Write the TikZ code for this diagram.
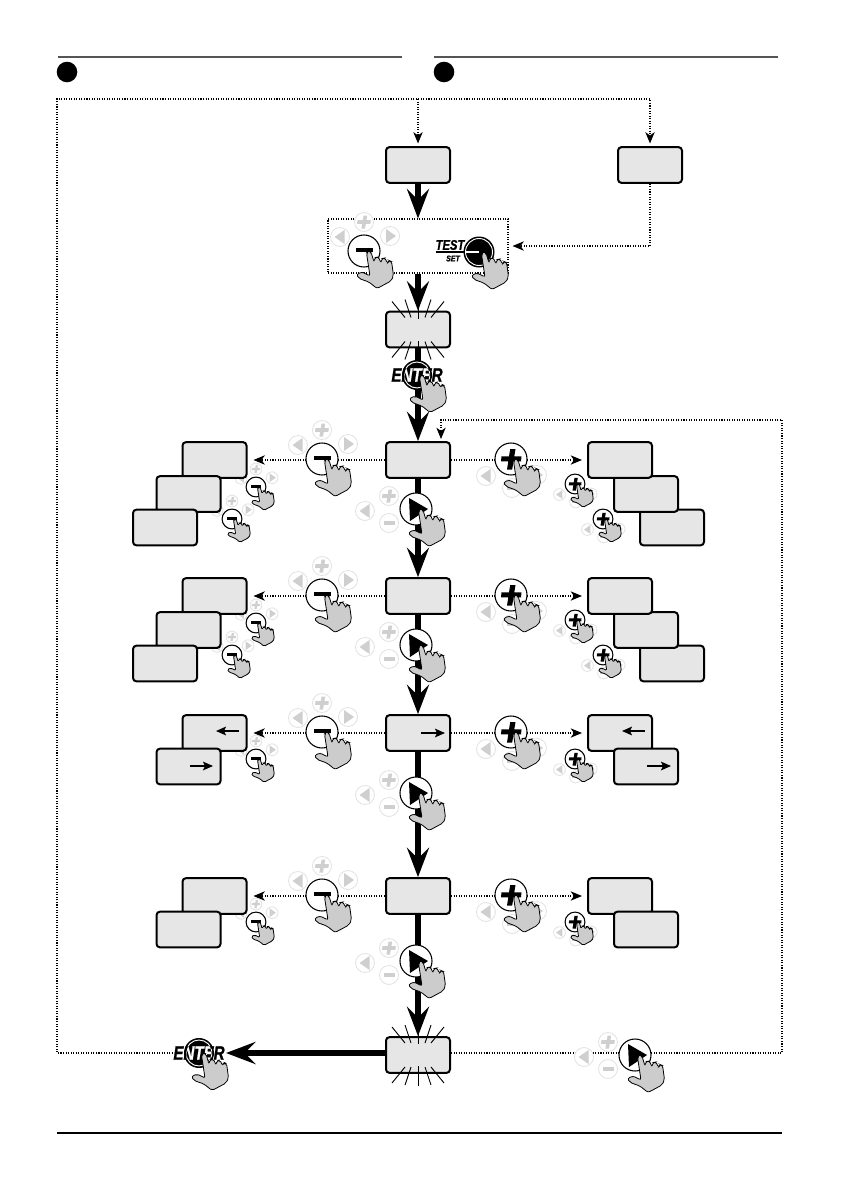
\documentclass[tikz,border=0pt]{standalone}
\usepackage{fontspec}
\setmainfont{Liberation Sans}
\newfontface\heavyital[FakeBold=1.2]{Liberation Sans Bold Italic}
\usetikzlibrary{arrows.meta}
\definecolor{boxgray}{HTML}{E6E6E6}
\definecolor{handgray}{HTML}{CCCCCC}
\definecolor{ghostline}{HTML}{E2E2E2}
\definecolor{ghosticon}{HTML}{CFCFCF}
\definecolor{rulegray}{HTML}{555555}
\tikzset{
  bx/.style={draw=black,fill=boxgray,rectangle,rounded corners=2.6pt,line width=1.5pt,inner sep=0pt,minimum width=48pt,minimum height=26.8pt},
  dotline/.style={line width=.8pt,dash pattern=on .8pt off 1.1pt},
  dotarrow/.style={dotline,-{Stealth[length=8.5pt,width=7pt,inset=2.5pt]}},
  bigarrow/.style={line width=4.6pt,-{Stealth[length=22pt,width=16.5pt,inset=8pt]}},
  boxarrow/.style={line width=1.1pt,-{Stealth[length=7.5pt,width=6.5pt,inset=1.5pt]}},
  ghostc/.style={draw=ghostline,fill=white,line width=.6pt},
  btn/.style={draw=black,fill=white,line width=.8pt},
  hand/.style={draw=black,fill=handgray,line width=.6pt},
  frameb/.style={draw=black,dotline,rectangle,inner sep=0pt,minimum width=135pt,minimum height=40.5pt},
  rayline/.style={line width=.7pt,black},
  label/.style={inner sep=0pt}
}
% hand, local origin = centre of its button
\newcommand\handat[4]{\begin{scope}[shift={(#1,#2)},scale=#3]
  \draw[hand,rounded corners=#4]
   (2.5,2) -- (4.5,-.5) -- (7,1) -- (10,11) -- (11,6.5) -- (14.5,6) -- (17,12) -- (18,7.5) -- (21,7) -- (23.5,12.5)
   -- (25,9.5) -- (27.5,10.5) -- (28.5,17) -- (29.5,25) -- (27,30) -- (13,37.5) -- (5,31) -- (-5,27.5) -- (-7.5,23.5) -- (-2,21) -- (6,25) -- cycle;
\end{scope}}
% ghost buttons
\newcommand\ghostleft[3]{\begin{scope}[shift={(#1,#2)},scale=#3]
  \draw[ghostc] (0,0) circle[radius=9.5]; \fill[ghosticon] (-5.5,0) -- (4.5,-7) -- (4.5,7) -- cycle;\end{scope}}
\newcommand\ghostright[3]{\begin{scope}[shift={(#1,#2)},scale=#3]
  \draw[ghostc] (0,0) circle[radius=9.5]; \fill[ghosticon] (6,0) -- (-4,-7) -- (-4,7) -- cycle;\end{scope}}
\newcommand\ghostplus[3]{\begin{scope}[shift={(#1,#2)},scale=#3]
  \draw[ghostc] (0,0) circle[radius=9.5];
  \fill[ghosticon] (-6.5,-1.8) -- (-1.2,-1.8) -- (-.4,-6.5) -- (3.2,-6.5) -- (2.4,-1.8) -- (6.8,-1.8) -- (6.4,1.8) -- (1.8,1.8) -- (1,6.5) -- (-2.6,6.5) -- (-1.8,1.8) -- (-7,1.8) -- cycle;\end{scope}}
\newcommand\ghostminus[3]{\begin{scope}[shift={(#1,#2)},scale=#3]
  \draw[ghostc] (0,0) circle[radius=9.5]; \fill[ghosticon] (-5.5,-1.7) rectangle (5.5,1.7);\end{scope}}
% big / small buttons: x y scale rounding
\newcommand\minusbtn[4]{\begin{scope}[shift={(#1,#2)},scale=#3]
  \ghostplus{0}{-29}{1}\ghostleft{-24}{-14}{1}\ghostright{26}{-15}{1}
  \draw[btn] (0,0) circle[radius=16];
  \fill[black] (-8,-3) rectangle (8.5,1.4);\end{scope}
  \handat{#1}{#2}{#3}{#4}}
\newcommand\plusbtn[4]{\begin{scope}[shift={(#1,#2)},scale=#3]
  \ghostleft{-25}{17}{1}\ghostright{26}{16}{1}\ghostminus{1}{29}{1}
  \draw[btn] (0,0) circle[radius=16];
  \fill[black] (-9.5,-2.6) -- (-2,-2.6) -- (-.8,-10) -- (4.5,-10) -- (3.3,-2.6) -- (10.5,-2.6) -- (10,2.4) -- (2.5,2.4) -- (1.2,10.5) -- (-4,10.5) -- (-2.7,2.4) -- (-10,2.4) -- cycle;\end{scope}
  \handat{#1}{#2}{#3}{#4}}
\newcommand\rightbtn[4]{\begin{scope}[shift={(#1,#2)},scale=#3]
  \ghostplus{-27}{-13}{1}\ghostleft{-51}{2}{1}\ghostminus{-27}{14}{1}
  \draw[btn] (0,0) circle[radius=16];
  \fill[black] (-7,-11) -- (12,0) -- (-6,12) -- cycle;\end{scope}
  \handat{#1}{#2}{#3}{#4}}
% ENTER button: name x y
\newcommand\enterbtn[3]{%
  \fill[black] (#2,#3) circle[radius=15];
  \draw[white,line width=.7pt] (#2,#3) circle[radius=13];
  \node[label,xscale=.78,black,font=\heavyital\fontsize{14.5pt}{14.5pt}\selectfont] (#1) at (#2,#3) {ENTER};
  \begin{scope}\clip (#2,#3) circle[radius=12.6];
  \node[label,xscale=.78,white,font=\heavyital\fontsize{14.5pt}{14.5pt}\selectfont] (#1w) at (#2,#3) {ENTER};
  \end{scope}
  \handat{#2}{#3}{1}{1.5pt}}
% rays round a flashing box
\newcommand\rays[2]{\begin{scope}[shift={(#1,#2)}]
  \foreach \s in {1,-1}{
   \draw[rayline] (0,\s*-31) -- (0,\s*-11);
   \draw[rayline] (-13,\s*-30) -- (-7,\s*-12);
   \draw[rayline] (13,\s*-30) -- (7,\s*-12);
   \draw[rayline] (-26,\s*-28) -- (-13,\s*-12);
   \draw[rayline] (26,\s*-28) -- (13,\s*-12);}
\end{scope}}
\begin{document}
\begin{tikzpicture}[x=.75pt,y=-.75pt]
\useasboundingbox (0,0) rectangle (840,1192);
\fill[white] (0,0) rectangle (840,1192);
% header and footer rules
\draw[rulegray,line width=.8pt] (58,57) -- (402,57);
\draw[rulegray,line width=.8pt] (434,57) -- (778,57);
\fill[black] (67,72) circle[radius=10.3];
\fill[black] (444,72) circle[radius=10.3];
\draw[black,line width=.8pt] (57,1133) -- (782,1133);
% small buttons go under the boxes
\foreach \t in {0,136}{
  \minusbtn{256}{487+\t}{.62}{1pt}
  \minusbtn{232}{519+\t}{.62}{1pt}
  \plusbtn{575}{484+\t}{.62}{1pt}
  \plusbtn{603}{519+\t}{.62}{1pt}
}
\minusbtn{256}{759}{.62}{1pt}
\plusbtn{575}{759}{.62}{1pt}
\minusbtn{256}{922}{.62}{1pt}
\plusbtn{575}{922}{.62}{1pt}
% boxes
\node[bx] (b0) at (418,165) {};
\node[bx] (b0r) at (650,165) {};
\node[frameb] (frame) at (418,246) {};
\node[bx] (fl1) at (418,329.5) {};
\node[bx] (fl2) at (418,1055) {};
% row 1
\node[bx] (l1a) at (214.5,460) {};
\node[bx] (l1b) at (188.5,494) {};
\node[bx] (l1c) at (165,527.5) {};
\node[bx] (m1) at (418,460) {};
\node[bx] (r1c) at (672,527.5) {};
\node[bx] (r1b) at (646,494) {};
\node[bx] (r1a) at (620,460) {};
% row 2
\node[bx] (l2a) at (214.5,596) {};
\node[bx] (l2b) at (188.5,630) {};
\node[bx] (l2c) at (165,663.5) {};
\node[bx] (m2) at (418,596) {};
\node[bx] (r2c) at (672,663.5) {};
\node[bx] (r2b) at (646,630) {};
\node[bx] (r2a) at (620,596) {};
% row 3
\node[bx] (l3a) at (214.5,733) {};
\node[bx] (l3b) at (188.5,766.5) {};
\node[bx] (m3) at (418,733) {};
\node[bx] (r3a) at (620,733) {};
\node[bx] (r3b) at (646,766.5) {};
% row 4
\node[bx] (l4a) at (214.5,896) {};
\node[bx] (l4b) at (188.5,929.5) {};
\node[bx] (m4) at (418,896) {};
\node[bx] (r4a) at (620,896) {};
\node[bx] (r4b) at (646,929.5) {};
% arrows inside boxes
\draw[boxarrow] (239,731) -- (216,731);
\draw[boxarrow] (190,766) -- (213,766);
\draw[boxarrow] (421,733) -- (445,733);
\draw[boxarrow] (645,731) -- (622,731);
\draw[boxarrow] (647,766) -- (671,766);
% named free ends
\coordinate (tl) at (57,99);
\coordinate (cr) at (782,420);
\coordinate (lt) at (441,441);
\coordinate (fl2e) at (451,1053);
\coordinate (fl2w) at (385,1053);
\coordinate (en2tip) at (226,1053);
\coordinate (en2pos) at (173,1053);
% dotted connectors
\draw[dotarrow,shorten >=2pt] (en2pos) -| (tl) -| (b0r.north);
\draw[dotarrow,shorten >=2pt] (b0 |- tl) -- (b0.north);
\draw[dotarrow,shorten >=3pt] (b0r.south) |- (frame.east);
\draw[dotarrow,shorten >=1.5pt] (fl2e) -| (cr) -| (lt);
\foreach \n in {1,2,3,4}{
  \draw[dotarrow,shorten >=4.5pt] (m\n.west) -- (l\n a.east);
  \draw[dotarrow,shorten >=3.75pt] (m\n.east) -- (r\n a.west);
}
% main flow
\draw[bigarrow] (b0.south) -- (frame.north);
\draw[bigarrow] (frame.south) -- (fl1.north);
\draw[bigarrow] (fl1.south) -- (m1.north);
\draw[bigarrow] (m1.south) -- (m2.north);
\draw[bigarrow] (m2.south) -- (m3.north);
\draw[bigarrow] (m3.south) -- (m4.north);
\draw[bigarrow] (m4.south) -- (fl2.north);
\draw[bigarrow] (fl2w) -- (en2tip);
\rays{418}{329.5}
\rays{418}{1055}
% big buttons
\foreach \y in {459,595,732,895}{
  \minusbtn{322}{\y}{1}{1.6pt}
  \plusbtn{511}{\y}{1}{1.6pt}
}
\rightbtn{416}{509}{1}{1.6pt}
\rightbtn{416}{645}{1}{1.6pt}
\rightbtn{416}{793}{1}{1.6pt}
\rightbtn{416}{961}{1}{1.6pt}
\rightbtn{635}{1055}{1}{1.6pt}
% frame contents
\minusbtn{364}{251}{1}{1.6pt}
\fill[black] (479,252) circle[radius=15.5];
\draw[white,line width=.7pt] (479,252) circle[radius=13.5];
\draw[black,line width=1pt] (436,252) -- (465,252);
\draw[white,line width=1pt] (465,252) -- (479,252);
\node[label,xscale=.8,font=\heavyital\fontsize{10.5pt}{10.5pt}\selectfont] (testlbl) at (450,245) {TEST};
\node[label,xscale=.85,font=\heavyital\fontsize{6.2pt}{6.2pt}\selectfont] (setlbl) at (453,258.5) {SET};
\handat{479}{252}{1}{1.6pt}
% ENTER buttons
\enterbtn{en1}{417}{375}
\enterbtn{en2}{199}{1053}
\end{tikzpicture}
\end{document}
